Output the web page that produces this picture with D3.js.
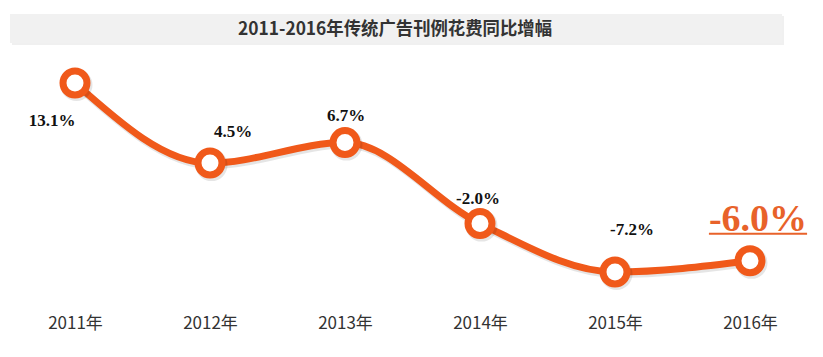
<!DOCTYPE html>
<html>
<head>
<meta charset="utf-8">
<script src="https://cdn.jsdelivr.net/npm/d3@7"></script>
<style>
  html, body { margin: 0; padding: 0; background: #fff; }
  svg { display: block; }
</style>
</head>
<body>
<svg id="chart" width="823" height="357"></svg>
<script>
const title = "2011-2016年传统广告刊例花费同比增幅";
const years = ["2011年", "2012年", "2013年", "2014年", "2015年", "2016年"];
const values = [13.1, 4.5, 6.7, -2.0, -7.2, -6.0];
const valueLabels = ["13.1%", "4.5%", "6.7%", "-2.0%", "-7.2%", "-6.0%"];

const W = 823, H = 357;
const orange = "#f0591a";
const svg = d3.select("#chart");

// title bar
svg.append("rect").attr("x", 12).attr("y", 16).attr("width", 772).attr("height", 29)
  .attr("fill", "#e6e6e6").attr("opacity", 0.6);
svg.append("rect").attr("x", 10).attr("y", 14).attr("width", 772).attr("height", 29)
  .attr("fill", "#f1f1f1");
svg.append("text").attr("x", 395).attr("y", 35)
  .attr("text-anchor", "middle")
  .attr("font-family", "'Noto Sans CJK SC', 'Noto Sans', sans-serif")
  .attr("font-weight", "bold").attr("font-size", 18)
  .attr("fill", "#333")
  .attr("textLength", 314).attr("lengthAdjust", "spacingAndGlyphs")
  .text(title);

const x = d3.scalePoint().domain(years).range([75, 750]);
const y = d3.scaleLinear().domain([-7.2, 13.1]).range([272, 83]);

// x axis labels
const xAxis = d3.axisBottom(x).tickSize(0).tickPadding(0);
const gx = svg.append("g").attr("transform", "translate(0,317)").call(xAxis);
gx.select(".domain").remove();
gx.selectAll("text")
  .attr("font-family", "'Noto Sans CJK SC', 'Noto Sans', sans-serif")
  .attr("font-size", 17).attr("fill", "#333").attr("dy", "0.71em");

const pts = years.map((yr, i) => ({ yr, v: values[i], label: valueLabels[i], i }));

// line with soft shadow
const line = d3.line().x(d => x(d.yr)).y(d => y(d.v)).curve(d3.curveMonotoneX);
svg.append("path").datum(pts).attr("d", line)
  .attr("fill", "none").attr("stroke", "#000").attr("stroke-opacity", 0.1)
  .attr("stroke-width", 8).attr("transform", "translate(1.5,2)");
svg.append("path").datum(pts).attr("d", line)
  .attr("fill", "none").attr("stroke", orange).attr("stroke-width", 7)
  .attr("stroke-linecap", "round");

// markers
svg.selectAll("circle.shadow").data(pts).enter().append("circle")
  .attr("cx", d => x(d.yr) + 1.5).attr("cy", d => y(d.v) + 2)
  .attr("r", 12).attr("fill", "none").attr("stroke", "#000")
  .attr("stroke-opacity", 0.1).attr("stroke-width", 8);
svg.selectAll("circle.mk").data(pts).enter().append("circle")
  .attr("cx", d => x(d.yr)).attr("cy", d => y(d.v))
  .attr("r", 12).attr("fill", "#fff").attr("stroke", orange).attr("stroke-width", 7);

// label offsets (layout only)
const labelOffsets = [[-23, 43], [23, -26], [1, -22], [-2, -20], [17, -37]];
pts.slice(0, 5).forEach((d, i) => {
  svg.append("text")
    .attr("x", x(d.yr) + labelOffsets[i][0])
    .attr("y", y(d.v) + labelOffsets[i][1])
    .attr("text-anchor", "middle")
    .attr("font-family", "'Liberation Serif', 'Times New Roman', serif")
    .attr("font-weight", "bold").attr("font-size", 17)
    .attr("fill", "#111")
    .text(d.label);
});

// highlighted last label
const last = pts[5];
const lx = x(last.yr) + 8, ly = y(last.v) - 30;
const t = svg.append("text")
  .attr("x", lx).attr("y", ly)
  .attr("text-anchor", "middle")
  .attr("font-family", "'Liberation Serif', 'Times New Roman', serif")
  .attr("font-weight", "bold").attr("font-size", 38)
  .attr("fill", "#e8622a")
  .text(last.label);
const bb = t.node().getBBox();
svg.append("line")
  .attr("x1", bb.x).attr("x2", bb.x + bb.width)
  .attr("y1", ly + 3).attr("y2", ly + 3)
  .attr("stroke", "#e8622a").attr("stroke-width", 2);
</script>
</body>
</html>
